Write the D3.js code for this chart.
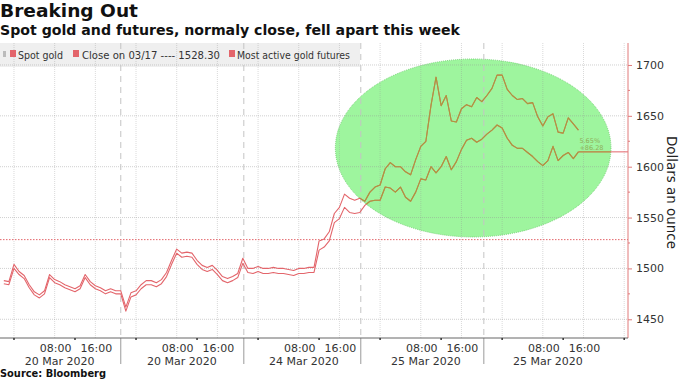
<!DOCTYPE html>
<html><head><meta charset="utf-8">
<script src="https://cdn.jsdelivr.net/npm/d3@7"></script>
<style>body{margin:0;background:#fff}svg{display:block}</style>
</head><body><svg id="c" width="680" height="380"></svg>
<script>
// ---- data (hourly, first point at hour -2 of 20 Mar session) ----
const startHour = -2;
const spotGold = [
1485,1484,1500,1494,1490,1481,1474,1471,1475,1491,1486,1484,1481,1479,1477,1480,1491,1484,1480,1478,1475,1477,1475,1475,
1458,1472,1474,1480,1484,1484,1482,1485,1492,1504,1515,1511,1512,1511,1504,1499,1497,1499,1494,1488,1486,1488,1491,1505,
1496,1495,1497,1495,1495,1496,1495,1495,1494,1493,1495,1495,1496,1496,1518,1521,1527,1545,1549,1560,1555,1554,1555,1562,
1566,1567,1567,1580,1579,1575,1580,1570,1566,1575,1588,1587,1600,1594,1600,1610,1597,1605,1617,1626,1628,1624,1627,1632,
1636,1641,1638,1628,1621,1618,1618,1614,1610,1605,1601,1606,1620,1606,1611,1614,1608,1614.58
];
const goldFutures = [
1488,1487,1504,1497,1493,1484,1477,1474,1478,1494,1489,1487,1484,1482,1480,1483,1494,1487,1483,1481,1478,1480,1478,1478,
1462,1476,1478,1484,1488,1488,1486,1489,1496,1508,1519,1515,1516,1515,1508,1503,1501,1503,1498,1492,1490,1492,1495,1510,
1500,1500,1502,1500,1500,1501,1500,1500,1499,1498,1500,1500,1501,1501,1527,1529,1536,1554,1560,1573,1569,1567,1569,1566,
1575,1580,1582,1598,1604,1600,1600,1595,1592,1607,1620,1625,1660,1688,1660,1670,1645,1644,1657,1661,1659,1668,1664,1670,
1677,1690,1690,1676,1670,1666,1667,1662,1663,1649,1640,1649,1652,1634,1633,1648,1642,1636
];
const closeValue = 1528.30;
const changeLabels = ["5.65%", "+86.28"];
const yTicks = [1450, 1500, 1550, 1600, 1650, 1700];
const timeTickHours = [8,16,32,40,56,64,80,88,104,112];
const timeTickLabels = ["08:00","16:00","08:00","16:00","08:00","16:00","08:00","16:00","08:00","16:00"];
const dayLabels = ["20 Mar 2020","20 Mar 2020","24 Mar 2020","25 Mar 2020","25 Mar 2020"];
const dayLabelHours = [9, 33, 57, 81, 105];
const sessionBreakHours = [21, 45.2, 68.2, 92.4];
const legendItems = ["Spot gold", "Close on 03/17 ---- 1528.30", "Most active gold futures"];
const highlight = {centerHour: 90.3, centerValue: 1618.4, halfHours: 27.1, halfDollars: 87.5};

// ---- drawing ----
const svg = d3.select("#c");
const W = 680, H = 380;
const plotL = 0, plotR = 628, plotT = 43, plotB = 338;
const x = d3.scaleLinear().domain([-2.75, 120.75]).range([plotL, plotR]);
const y = d3.scaleLinear().domain([1431.6, 1721.6]).range([plotB, plotT]);
const red = "#e3656b", olive = "#a99b3c";
const FONT = "DejaVu Sans, Verdana, sans-serif";

svg.append("rect").attr("width", W).attr("height", H).attr("fill", "#fff");

// legend band
svg.append("rect").attr("x", 0).attr("y", plotT).attr("width", 360).attr("height", 24).attr("fill", "#efefef");

// highlight ellipse
const ell = svg.append("ellipse")
  .attr("cx", x(highlight.centerHour)).attr("cy", y(highlight.centerValue))
  .attr("rx", x(highlight.centerHour + highlight.halfHours) - x(highlight.centerHour))
  .attr("ry", y(highlight.centerValue - highlight.halfDollars) - y(highlight.centerValue))
  .attr("fill", "#9ef59e").attr("stroke", "#5fc95f").attr("stroke-width", 0.8).attr("stroke-dasharray", "1,1");

svg.append("clipPath").attr("id", "ellClip").append("ellipse")
  .attr("cx", x(highlight.centerHour)).attr("cy", y(highlight.centerValue))
  .attr("rx", x(highlight.centerHour + highlight.halfHours) - x(highlight.centerHour))
  .attr("ry", y(highlight.centerValue - highlight.halfDollars) - y(highlight.centerValue));

// grid
const gridHours = d3.range(0, 121, 8);
svg.append("g").selectAll("line").data(gridHours).join("line")
  .attr("x1", d => x(d)).attr("x2", d => x(d)).attr("y1", plotT).attr("y2", plotB)
  .attr("stroke", "rgba(150,150,150,0.35)").attr("stroke-width", 1).attr("stroke-dasharray", "1,1");
svg.append("g").selectAll("line").data(yTicks).join("line")
  .attr("x1", plotL).attr("x2", plotR).attr("y1", d => y(d)).attr("y2", d => y(d))
  .attr("stroke", "rgba(150,150,150,0.45)").attr("stroke-width", 1).attr("stroke-dasharray", "1,1");
// session breaks
svg.append("g").selectAll("line").data(sessionBreakHours).join("line")
  .attr("x1", d => x(d)).attr("x2", d => x(d)).attr("y1", plotT).attr("y2", plotB)
  .attr("stroke", "#c4c4c4").attr("stroke-width", 1).attr("stroke-dasharray", "6,5");
svg.append("g").selectAll("line").data(sessionBreakHours).join("line")
  .attr("x1", d => x(d)).attr("x2", d => x(d)).attr("y1", plotB).attr("y2", 364)
  .attr("stroke", "#9a9a9a").attr("stroke-width", 1);

// close line
svg.append("line").attr("x1", plotL).attr("x2", plotR).attr("y1", y(closeValue)).attr("y2", y(closeValue))
  .attr("stroke", red).attr("stroke-width", 1).attr("stroke-dasharray", "1.5,1.5");

// series
const line = d3.line().x((d, i) => x(startHour + i)).y(d => y(d));
function drawSeries(g, color) {
  g.append("path").datum(goldFutures).attr("d", line).attr("fill", "none").attr("stroke", color).attr("stroke-width", 1.1).attr("stroke-linejoin", "round");
  g.append("path").datum(spotGold).attr("d", line).attr("fill", "none").attr("stroke", color).attr("stroke-width", 1.1).attr("stroke-linejoin", "round");
  const last = spotGold[spotGold.length - 1];
  g.append("line").attr("x1", x(startHour + spotGold.length - 1)).attr("x2", plotR)
    .attr("y1", y(last)).attr("y2", y(last)).attr("stroke", color).attr("stroke-width", 1);
}
drawSeries(svg.append("g"), red);
drawSeries(svg.append("g").attr("clip-path", "url(#ellClip)"), olive);

// change labels
const lastX = x(startHour + spotGold.length - 1);
const lastY = y(spotGold[spotGold.length - 1]);
svg.append("text").attr("x", lastX + 1).attr("y", lastY - 9).text(changeLabels[0])
  .attr("font-family", FONT).attr("font-size", 6.5).attr("fill", "#8fae5a");
svg.append("text").attr("x", lastX + 1).attr("y", lastY - 2).text(changeLabels[1])
  .attr("font-family", FONT).attr("font-size", 6.5).attr("fill", "#8fae5a");

// right axis
svg.append("line").attr("x1", plotR).attr("x2", plotR).attr("y1", plotT).attr("y2", plotB).attr("stroke", "#e07a7a").attr("stroke-width", 1);
const yAx = svg.append("g").attr("transform", `translate(${plotR},0)`)
  .call(d3.axisRight(y).tickValues(yTicks).tickSize(4).tickPadding(4).tickFormat(d3.format("d")));
yAx.select(".domain").remove();
yAx.selectAll("line").attr("stroke", "#e07a7a");
yAx.selectAll("text").attr("font-family", FONT).attr("font-size", 11).attr("fill", "#333");
const minorY = [1475, 1525, 1575, 1625, 1675];
svg.append("g").selectAll("line").data(minorY).join("line")
  .attr("x1", plotR).attr("x2", plotR + 2).attr("y1", d => y(d)).attr("y2", d => y(d)).attr("stroke", "#e07a7a");
svg.append("text").attr("transform", `translate(667,${(plotT + plotB) / 2 + 2}) rotate(90)`)
  .attr("text-anchor", "middle").attr("font-family", FONT).attr("font-size", 13.5)
  .attr("textLength", 113).attr("lengthAdjust", "spacingAndGlyphs").attr("fill", "#222").text("Dollars an ounce");

// bottom axis
svg.append("line").attr("x1", plotL).attr("x2", plotR).attr("y1", plotB).attr("y2", plotB).attr("stroke", "#666").attr("stroke-width", 1);
const minorX = d3.range(0, 121, 12);
svg.append("g").selectAll("line").data(minorX).join("line")
  .attr("x1", d => x(d)).attr("x2", d => x(d)).attr("y1", plotB).attr("y2", plotB + 2).attr("stroke", "#333").attr("stroke-width", 1.5);
svg.append("g").selectAll("text").data(timeTickHours).join("text")
  .attr("x", d => x(d) + 1).attr("y", 352).attr("text-anchor", "middle")
  .attr("font-family", FONT).attr("font-size", 11).attr("fill", "#333").text((d, i) => timeTickLabels[i]);
svg.append("g").selectAll("text").data(dayLabelHours).join("text")
  .attr("x", d => x(d)).attr("y", 365).attr("text-anchor", "middle")
  .attr("font-family", FONT).attr("font-size", 11).attr("fill", "#333").text((d, i) => dayLabels[i]);

// legend
svg.append("rect").attr("x", 3).attr("y", 51).attr("width", 3).attr("height", 6).attr("fill", "#bbb");
const legX = [10, 73, 229];
const legTextX = [18, 82, 237];
const legW = [45, 138, 113];
legendItems.forEach((t, i) => {
  svg.append("rect").attr("x", legX[i]).attr("y", 50).attr("width", 6).attr("height", 7).attr("fill", red);
  svg.append("text").attr("x", legTextX[i]).attr("y", 58.5).text(t)
    .attr("font-family", FONT).attr("font-size", 10.5).attr("fill", "#333")
    .attr("textLength", legW[i]).attr("lengthAdjust", "spacingAndGlyphs");
});

// titles
svg.append("text").attr("x", 0).attr("y", 17).text("Breaking Out")
  .attr("font-family", FONT).attr("font-weight", "bold").attr("font-size", 18.5).attr("fill", "#111")
  .attr("textLength", 138).attr("lengthAdjust", "spacingAndGlyphs");
svg.append("text").attr("x", 0).attr("y", 35).text("Spot gold and futures, normaly close, fell apart this week")
  .attr("font-family", FONT).attr("font-weight", "bold").attr("font-size", 14).attr("fill", "#111")
  .attr("textLength", 460).attr("lengthAdjust", "spacingAndGlyphs");
svg.append("text").attr("x", 0).attr("y", 377).text("Source: Bloomberg")
  .attr("font-family", FONT).attr("font-weight", "bold").attr("font-size", 10).attr("fill", "#111")
  .attr("textLength", 106).attr("lengthAdjust", "spacingAndGlyphs");
</script>
</body></html>
